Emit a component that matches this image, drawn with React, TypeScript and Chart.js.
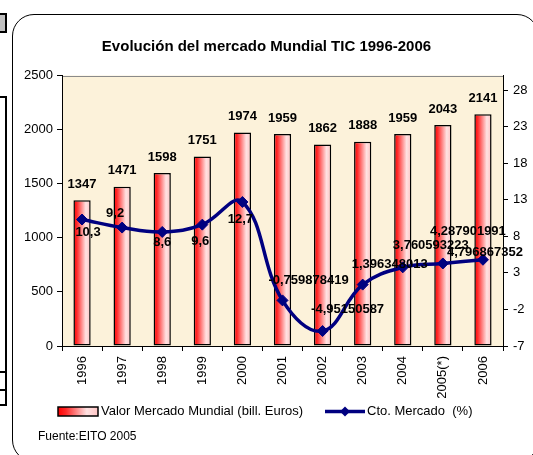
import React, { useEffect, useRef } from "react";
import { Chart, registerables } from "chart.js";

Chart.register(...registerables);

// ---- data ----
const years = ["1996", "1997", "1998", "1999", "2000", "2001", "2002", "2003", "2004", "2005(*)", "2006"];
const marketValue = [1347, 1471, 1598, 1751, 1974, 1959, 1862, 1888, 1959, 2043, 2141];
const growth = [10.3, 9.2, 8.6, 9.6, 12.7, -0.759878419, -4.95150587, 1.396348013, 3.760593223, 4.287901991, 4.796867352];
const leftTicks = [0, 500, 1000, 1500, 2000, 2500];
const rightTicks = [-7, -2, 3, 8, 13, 18, 23, 28];
const barSeriesName = "Valor Mercado Mundial (bill. Euros)";
const lineSeriesName = "Cto. Mercado  (%)";
const titleText = "Evolución del mercado Mundial TIC 1996-2006";
const sourceText = "Fuente:EITO 2005";

// ---- style ----
const FONT = "'Liberation Sans', Arial, sans-serif";
const growthLabelOffsets = [
  [6, 13], [-7, -14], [0, 10], [-2, 17], [-2, 17], [26, -20],
  [25, -22], [27, -20], [28, -22], [25, -32], [2, -7],
];
const BAR_FRACTION = 0.43;

function barFill(ctx: CanvasRenderingContext2D, x0: number, x1: number) {
  const g = ctx.createLinearGradient(x0, 0, x1, 0);
  g.addColorStop(0, "#ff0000");
  g.addColorStop(0.2, "#ff2a2a");
  g.addColorStop(0.72, "#ffe2e2");
  g.addColorStop(1, "#ffc4c4");
  return g;
}

export default function App() {
  const ref = useRef<HTMLCanvasElement>(null);

  useEffect(() => {
    const canvas = ref.current!;

    const plotBg = {
      id: "plotBg",
      beforeDraw(chart: any) {
        const { ctx, chartArea: a } = chart;
        ctx.save();
        ctx.fillStyle = "#fcf2da";
        ctx.fillRect(a.left, a.top, a.right - a.left, a.bottom - a.top);
        ctx.strokeStyle = "#8a8a8a";
        ctx.lineWidth = 1;
        ctx.beginPath();
        ctx.moveTo(a.left, Math.round(a.top) + 0.5);
        ctx.lineTo(a.right, Math.round(a.top) + 0.5);
        ctx.stroke();
        ctx.restore();
      },
    };

    const valueLabels = {
      id: "valueLabels",
      afterDatasetsDraw(chart: any) {
        const ctx = chart.ctx as CanvasRenderingContext2D;
        ctx.save();
        ctx.font = `bold 13px ${FONT}`;
        ctx.fillStyle = "#000";
        ctx.textAlign = "center";
        ctx.textBaseline = "middle";
        const barMeta = chart.getDatasetMeta(1);
        barMeta.data.forEach((el: any, i: number) => {
          ctx.fillText(String(marketValue[i]), el.x, el.y - 16);
        });
        const lineMeta = chart.getDatasetMeta(0);
        lineMeta.data.forEach((el: any, i: number) => {
          const [dx, dy] = growthLabelOffsets[i];
          ctx.fillText(String(growth[i]).replace(".", ","), el.x + dx, el.y + dy);
        });
        ctx.restore();
      },
    };

    const customLegend = {
      id: "customLegend",
      afterDraw(chart: any) {
        const ctx = chart.ctx as CanvasRenderingContext2D;
        const ds = chart.data.datasets;
        const y = 411.5;
        ctx.save();
        ctx.fillStyle = barFill(ctx, 58, 98);
        ctx.fillRect(58, 407, 40, 9);
        ctx.strokeStyle = "#000";
        ctx.lineWidth = 1.5;
        ctx.strokeRect(58, 407, 40, 9);
        ctx.font = `13px ${FONT}`;
        ctx.fillStyle = "#000";
        ctx.textAlign = "left";
        ctx.textBaseline = "middle";
        ctx.fillText(ds[1].label, 101, y);
        ctx.strokeStyle = "#000080";
        ctx.lineWidth = 3.5;
        ctx.beginPath();
        ctx.moveTo(325, y);
        ctx.lineTo(365, y);
        ctx.stroke();
        ctx.fillStyle = "#000080";
        ctx.beginPath();
        ctx.moveTo(345, y - 5);
        ctx.lineTo(350, y);
        ctx.lineTo(345, y + 5);
        ctx.lineTo(340, y);
        ctx.closePath();
        ctx.fill();
        ctx.fillStyle = "#000";
        ctx.fillText(ds[0].label, 367, y);
        ctx.font = `12px ${FONT}`;
        ctx.fillText(sourceText, 38, 437);
        ctx.restore();
      },
    };

    const chart = new Chart(canvas, {
      type: "bar",
      data: {
        labels: years,
        datasets: [
          {
            type: "line",
            label: lineSeriesName,
            data: growth,
            yAxisID: "y1",
            order: 0,
            borderColor: "#000080",
            backgroundColor: "#000080",
            borderWidth: 3.5,
            tension: 0.4,
            pointStyle: "rectRot",
            pointRadius: 5.5,
            pointBackgroundColor: "#000080",
            pointBorderColor: "#000080",
            pointBorderWidth: 1,
            fill: false,
          } as any,
          {
            type: "bar",
            label: barSeriesName,
            data: marketValue,
            yAxisID: "y",
            order: 1,
            categoryPercentage: 1,
            barPercentage: BAR_FRACTION,
            borderColor: "#000",
            borderWidth: 1.5,
            borderSkipped: false,
            backgroundColor: (c: any) => {
              const xs = c.chart.scales?.x;
              if (!xs || c.type !== "data") return "#ff8080";
              const cx = xs.getPixelForValue(c.dataIndex);
              const w = (xs.width / years.length) * BAR_FRACTION;
              if (!isFinite(cx) || !isFinite(w) || w <= 0) return "#ff8080";
              return barFill(c.chart.ctx, cx - w / 2, cx + w / 2);
            },
          } as any,
        ],
      },
      options: {
        responsive: false,
        animation: false,
        events: [],
        layout: { padding: { left: 0, right: 0, top: 0, bottom: 49 } },
        plugins: {
          legend: { display: false },
          tooltip: { enabled: false },
          title: {
            display: true,
            text: titleText,
            color: "#000",
            font: { family: FONT, size: 15, weight: "bold", lineHeight: 1.2 },
            padding: { top: 37.5, bottom: 20 },
          },
        },
        scales: {
          x: {
            type: "category",
            offset: true,
            afterFit: (s: any) => { s.height = 60; },
            grid: { drawOnChartArea: false, drawTicks: true, tickLength: 5, color: "#000", offset: true },
            border: { display: true, color: "#000", width: 1 },
            ticks: {
              autoSkip: false,
              minRotation: 90,
              maxRotation: 90,
              padding: 5,
              color: "#000",
              font: { family: FONT, size: 13 },
            },
          },
          y: {
            type: "linear",
            position: "left",
            min: leftTicks[0],
            max: leftTicks[leftTicks.length - 1],
            afterFit: (s: any) => { s.width = 62; },
            afterBuildTicks: (s: any) => { s.ticks = leftTicks.map((v) => ({ value: v })); },
            grid: { drawOnChartArea: false, drawTicks: true, tickLength: 5, color: "#000" },
            border: { display: true, color: "#000", width: 1 },
            ticks: {
              padding: 4,
              color: "#000",
              font: { family: FONT, size: 13 },
              callback: (v: any) => String(v),
            },
          },
          y1: {
            type: "linear",
            position: "right",
            min: -7,
            max: 30,
            afterFit: (s: any) => { s.width = 30; },
            afterBuildTicks: (s: any) => { s.ticks = rightTicks.map((v) => ({ value: v })); },
            grid: { drawOnChartArea: false, drawTicks: true, tickLength: 5, color: "#000" },
            border: { display: true, color: "#000", width: 1 },
            ticks: {
              padding: 5,
              color: "#000",
              font: { family: FONT, size: 13 },
              callback: (v: any) => String(v),
            },
          },
        },
      } as any,
      plugins: [plotBg, valueLabels, customLegend],
    });

    return () => chart.destroy();
  }, []);

  const blk = (s: React.CSSProperties) => (
    <div style={{ position: "absolute", background: "#000", ...s }} />
  );

  return (
    <div style={{ position: "fixed", left: 0, top: 0, width: 533, height: 455, background: "#fff", overflow: "hidden" }}>
      <canvas ref={ref} width={533} height={455} style={{ display: "block", width: 533, height: 455 }} />
      <div
        style={{
          position: "absolute",
          left: 12,
          top: 14,
          width: 527,
          height: 448,
          border: "1px solid #000",
          borderRadius: 22,
          pointerEvents: "none",
          boxSizing: "border-box",
        }}
      />
      <div style={{ position: "absolute", left: 0, top: 15, width: 5, height: 17, background: "#c0c0c0" }} />
      {blk({ left: 0, top: 13, width: 7, height: 2 })}
      {blk({ left: 0, top: 31, width: 7, height: 2 })}
      {blk({ left: 5, top: 13, width: 2, height: 20 })}
      {blk({ left: 0, top: 96, width: 7, height: 2 })}
      {blk({ left: 5, top: 96, width: 2, height: 310 })}
      {blk({ left: 0, top: 371, width: 7, height: 2 })}
      {blk({ left: 0, top: 389, width: 7, height: 2 })}
      {blk({ left: 0, top: 404, width: 7, height: 2 })}
    </div>
  );
}
